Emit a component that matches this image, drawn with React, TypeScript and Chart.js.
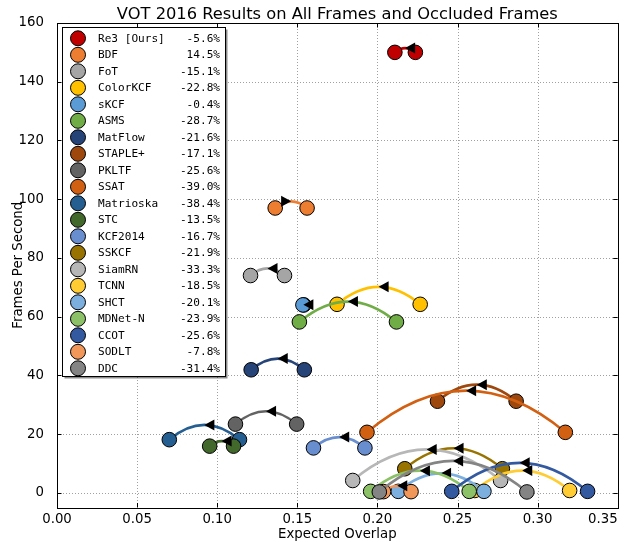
import React, { useEffect, useRef } from "react";
import { Chart, registerables } from "chart.js";

Chart.register(...registerables);

const TRACKERS = [
  "Re3 [Ours]", "BDF", "FoT", "ColorKCF", "sKCF", "ASMS", "MatFlow", "STAPLE+",
  "PKLTF", "SSAT", "Matrioska", "STC", "KCF2014", "SSKCF", "SiamRN", "TCNN",
  "SHCT", "MDNet-N", "CCOT", "SODLT", "DDC",
];
const CHANGE_LABELS = [
  "-5.6%", "14.5%", "-15.1%", "-22.8%", "-0.4%", "-28.7%", "-21.6%", "-17.1%",
  "-25.6%", "-39.0%", "-38.4%", "-13.5%", "-16.7%", "-21.9%", "-33.3%", "-18.5%",
  "-20.1%", "-23.9%", "-25.6%", "-7.8%", "-31.4%",
];
// Expected overlap on all frames
const OVERLAP_ALL = [
  0.2237, 0.1362, 0.142, 0.2267, 0.1541, 0.2119, 0.1544, 0.2866,
  0.1496, 0.3173, 0.1139, 0.1102, 0.1922, 0.278, 0.2769, 0.32,
  0.2665, 0.2573, 0.3312, 0.221, 0.2933,
];
// Expected overlap on occluded frames
const OVERLAP_OCC = [
  0.2109, 0.1561, 0.1208, 0.1748, 0.1535, 0.1513, 0.1212, 0.2375,
  0.1114, 0.1935, 0.0701, 0.0953, 0.1601, 0.2171, 0.1846, 0.2608,
  0.213, 0.1958, 0.2464, 0.2038, 0.2012,
];
const FPS = [
  150.0, 97.0, 74.0, 64.2, 64.0, 58.2, 41.9, 31.2,
  23.4, 20.6, 18.1, 15.9, 15.3, 8.2, 4.2, 0.8,
  0.5, 0.5, 0.5, 0.4, 0.3,
];
const COLORS = [
  "#c00000", "#ed7d31", "#a5a5a5", "#ffc000", "#5b9bd5", "#70ad47", "#264478", "#9e480e",
  "#636363", "#d26012", "#255e91", "#43682b", "#698ed0", "#997300", "#b7b7b7", "#ffcd33",
  "#7cafdd", "#8cc168", "#335aa1", "#f1975a", "#848484",
];
const X_TICKS = [0, 0.05, 0.1, 0.15, 0.2, 0.25, 0.3, 0.35];
const Y_TICKS = [0, 20, 40, 60, 80, 100, 120, 140, 160];

const TITLE = "VOT 2016 Results on All Frames and Occluded Frames";
const X_TITLE = "Expected Overlap";
const Y_TITLE = "Frames Per Second";

const FONT = '"DejaVu Sans", "Liberation Sans", sans-serif';
const MONO = '"DejaVu Sans Mono", "Liberation Mono", monospace';

const ARC_K = 0.42;

function arcGeom(chart: any, i: number) {
  const xs = chart.scales.x;
  const ys = chart.scales.y;
  const x1 = xs.getPixelForValue(OVERLAP_ALL[i]);
  const y1 = ys.getPixelForValue(FPS[i]);
  const x2 = xs.getPixelForValue(OVERLAP_OCC[i]);
  const y2 = ys.getPixelForValue(FPS[i]);
  const d = Math.hypot(x2 - x1, y2 - y1);
  const mx = (x1 + x2) / 2;
  const my = (y1 + y2) / 2;
  return {
    x1, y1, x2, y2,
    cx: mx, cy: my - ARC_K * d,
    ax: mx, ay: my - (ARC_K * d) / 2,
    dir: x2 >= x1 ? 1 : -1,
  };
}

const arcPlugin = {
  id: "arcs",
  beforeDatasetDraw(chart: any, args: any) {
    const i = args.index;
    const g = arcGeom(chart, i);
    const ctx = chart.ctx;
    ctx.save();
    ctx.strokeStyle = COLORS[i];
    ctx.lineWidth = 2.6;
    ctx.beginPath();
    ctx.moveTo(g.x1, g.y1);
    ctx.quadraticCurveTo(g.cx, g.cy, g.x2, g.y2);
    ctx.stroke();
    ctx.restore();
  },
  afterDatasetDraw(chart: any, args: any) {
    const i = args.index;
    const g = arcGeom(chart, i);
    const ctx = chart.ctx;
    const L = 10;
    const W = 5.5;
    ctx.save();
    ctx.fillStyle = "#000";
    ctx.beginPath();
    ctx.moveTo(g.ax, g.ay);
    ctx.lineTo(g.ax - g.dir * L, g.ay - W);
    ctx.lineTo(g.ax - g.dir * L, g.ay + W);
    ctx.closePath();
    ctx.fill();
    ctx.restore();
  },
};

const framePlugin = {
  id: "frame",
  beforeDatasetsDraw(chart: any) {
    const ctx = chart.ctx;
    const { left, right, top, bottom } = chart.chartArea;
    const xs = chart.scales.x;
    const ys = chart.scales.y;
    ctx.save();
    ctx.strokeStyle = "#a0a0a0";
    ctx.lineWidth = 1;
    ctx.setLineDash([1, 2]);
    X_TICKS.slice(1, -1).forEach((v) => {
      const px = Math.round(xs.getPixelForValue(v)) + 0.5;
      ctx.beginPath();
      ctx.moveTo(px, top);
      ctx.lineTo(px, bottom);
      ctx.stroke();
    });
    Y_TICKS.slice(0, -1).forEach((v) => {
      const py = Math.round(ys.getPixelForValue(v)) + 0.5;
      ctx.beginPath();
      ctx.moveTo(left, py);
      ctx.lineTo(right, py);
      ctx.stroke();
    });
    ctx.restore();
  },
  afterDraw(chart: any) {
    const ctx = chart.ctx;
    const { left, right, top, bottom } = chart.chartArea;
    const xs = chart.scales.x;
    const ys = chart.scales.y;
    ctx.save();
    // ticks (inward, all sides)
    ctx.strokeStyle = "#000";
    ctx.lineWidth = 1;
    const T = 4.5;
    X_TICKS.forEach((v) => {
      const px = Math.round(xs.getPixelForValue(v)) + 0.5;
      ctx.beginPath();
      ctx.moveTo(px, bottom);
      ctx.lineTo(px, bottom - T);
      ctx.moveTo(px, top);
      ctx.lineTo(px, top + T);
      ctx.stroke();
    });
    Y_TICKS.forEach((v) => {
      const py = Math.round(ys.getPixelForValue(v)) + 0.5;
      ctx.beginPath();
      ctx.moveTo(left, py);
      ctx.lineTo(left + T, py);
      ctx.moveTo(right, py);
      ctx.lineTo(right - T, py);
      ctx.stroke();
    });
    // frame
    ctx.strokeRect(Math.round(left) + 0.5, Math.round(top) + 0.5, Math.round(right - left), Math.round(bottom - top));

    // x tick labels
    ctx.fillStyle = "#000";
    ctx.font = `13.3px ${FONT}`;
    ctx.textBaseline = "middle";
    X_TICKS.forEach((v, k) => {
      const px = xs.getPixelForValue(v);
      const label = v.toFixed(2);
      const w = ctx.measureText(label).width;
      ctx.textAlign = "center";
      let x = px;
      if (px + w / 2 > chart.width - 1) {
        ctx.textAlign = "right";
        x = px;
      }
      ctx.fillText(label, x, 520);
    });

    // legend
    const lx = 62.5, ly = 27.5, lw = 163, lh = 349;
    ctx.fillStyle = "rgba(0,0,0,0.45)";
    ctx.fillRect(lx + 2, ly + 2, lw, lh);
    ctx.fillStyle = "#fff";
    ctx.fillRect(lx, ly, lw, lh);
    ctx.strokeStyle = "#000";
    ctx.strokeRect(lx, ly, lw, lh);
    ctx.font = `11.1px ${MONO}`;
    ctx.textBaseline = "middle";
    TRACKERS.forEach((name, i) => {
      const y = 38.3 + i * 16.5;
      ctx.beginPath();
      ctx.arc(78, y, 7.5, 0, Math.PI * 2);
      ctx.fillStyle = COLORS[i];
      ctx.fill();
      ctx.strokeStyle = "#000";
      ctx.stroke();
      ctx.fillStyle = "#000";
      ctx.textAlign = "left";
      ctx.fillText(name, 98, y + 0.5);
      ctx.textAlign = "right";
      ctx.fillText(CHANGE_LABELS[i], 220, y + 0.5);
    });

    // titles
    ctx.fillStyle = "#000";
    ctx.textAlign = "center";
    ctx.textBaseline = "alphabetic";
    ctx.font = `16.3px ${FONT}`;
    ctx.fillText(TITLE, (left + right) / 2, 19);
    ctx.font = `13.3px ${FONT}`;
    ctx.fillText(X_TITLE, (left + right) / 2, 538);
    ctx.save();
    ctx.translate(22, (top + bottom) / 2);
    ctx.rotate(-Math.PI / 2);
    ctx.fillText(Y_TITLE, 0, 0);
    ctx.restore();
    ctx.restore();
  },
};

export default function App() {
  const ref = useRef<HTMLCanvasElement>(null);
  useEffect(() => {
    document.body.style.margin = "0";
    const datasets = TRACKERS.map((name, i) => ({
      label: name,
      data: [
        { x: OVERLAP_ALL[i], y: FPS[i] },
        { x: OVERLAP_OCC[i], y: FPS[i] },
      ],
      backgroundColor: COLORS[i],
      borderColor: "#000",
      borderWidth: 1,
      pointRadius: 7.3,
      pointHoverRadius: 7.3,
      showLine: false,
      order: -i,
    }));
    const chart = new Chart(ref.current as HTMLCanvasElement, {
      type: "scatter",
      data: { datasets },
      options: {
        responsive: false,
        animation: false,
        events: [],
        layout: { padding: { top: 23, right: 6.4, left: 0, bottom: 0 } },
        plugins: {
          legend: { display: false },
          title: { display: false },
          tooltip: { enabled: false },
        },
        scales: {
          x: {
            type: "linear",
            min: 0,
            max: 0.35,
            afterBuildTicks: (s: any) => {
              s.ticks = X_TICKS.map((v) => ({ value: v }));
            },
            afterFit: (s: any) => {
              s.height = 34.5;
              s.paddingLeft = 0;
              s.paddingRight = 0;
            },
            grid: { display: false },
            border: { display: false },
            ticks: { display: false },
          },
          y: {
            type: "linear",
            min: -5,
            max: 160,
            afterBuildTicks: (s: any) => {
              s.ticks = Y_TICKS.map((v) => ({ value: v }));
            },
            afterFit: (s: any) => {
              s.width = 57;
              s.paddingTop = 0;
              s.paddingBottom = 0;
            },
            grid: { display: false },
            border: { display: false },
            ticks: {
              autoSkip: false,
              padding: 5,
              color: "#000",
              font: { family: FONT, size: 13.3 },
              callback: (v: any) => String(v),
            },
          },
        },
      },
      plugins: [arcPlugin, framePlugin],
    });
    return () => chart.destroy();
  }, []);
  return (
    <div style={{ width: 626, height: 542, position: "relative" }}>
      <canvas ref={ref} width={626} height={542} style={{ display: "block" }} />
    </div>
  );
}
